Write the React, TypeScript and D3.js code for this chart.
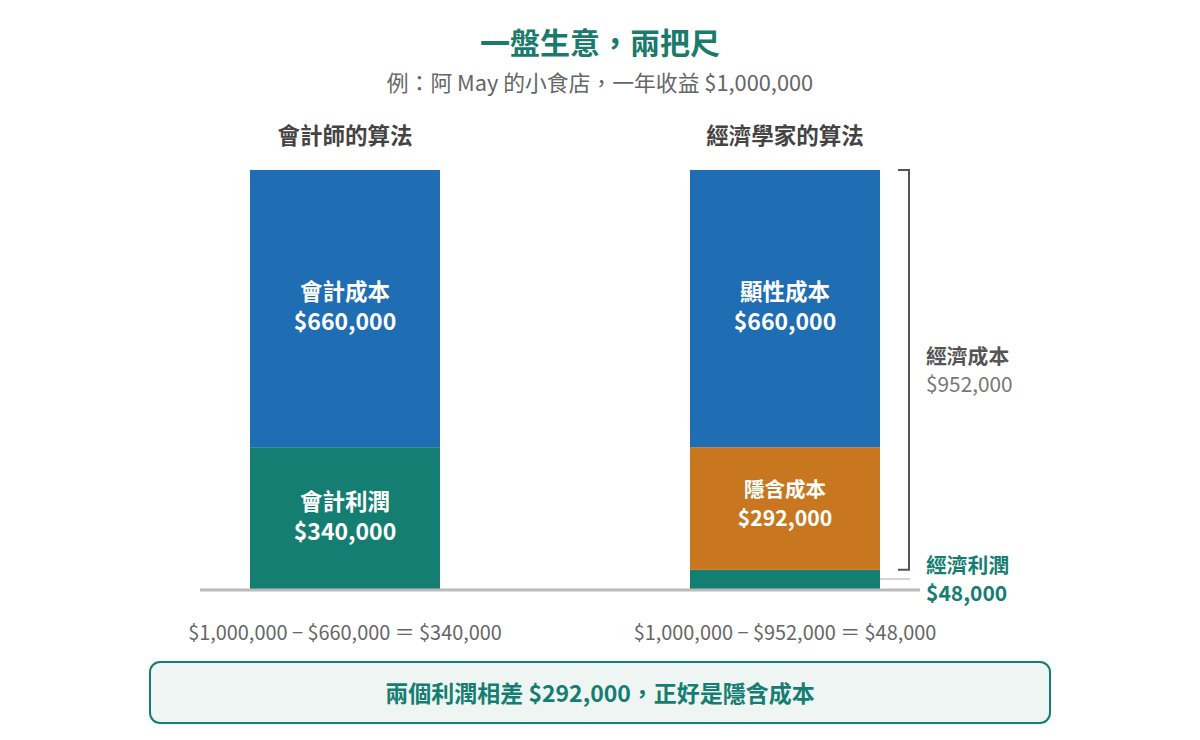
import React from "react";
import * as d3 from "d3";

const columns = ["會計師的算法", "經濟學家的算法"];
const revenue = 1000000;
const accountingSegments = [
  { name: "會計利潤", value: 340000, color: "#157e72" },
  { name: "會計成本", value: 660000, color: "#1f6db2" },
];
const economicSegments = [
  { name: "經濟利潤", value: 48000, color: "#157e72" },
  { name: "隱含成本", value: 292000, color: "#c87720" },
  { name: "顯性成本", value: 660000, color: "#1f6db2" },
];
const formulas = ["$1,000,000 − $660,000 ＝ $340,000", "$1,000,000 − $952,000 ＝ $48,000"];
const economicCost = 952000;

const FONT = "'Noto Sans CJK TC', 'Noto Sans', sans-serif";
const fmt = (v: number) => "$" + d3.format(",")(v);

export default function App() {
  const W = 1200, H = 740;
  const y = d3.scaleLinear().domain([0, revenue]).range([590, 170]);
  const barW = 190;
  const xLeft = (i: number) => (i === 0 ? 250 : 690);

  const stack = (segs: { name: string; value: number; color: string }[]) => {
    let acc = 0;
    return segs.map((s) => {
      const y0 = acc;
      acc += s.value;
      return { ...s, y0, y1: acc };
    });
  };
  const stacks = [stack(accountingSegments), stack(economicSegments)];

  const bx = 909;
  return (
    <svg width={W} height={H} style={{ position: "absolute", left: 0, top: 0, background: "#fff" }} fontFamily={FONT}>
      <text x={600} y={41} textAnchor="middle" dominantBaseline="central" fontSize={30} fontWeight={700} fill="#1a7a6b">一盤生意，兩把尺</text>
      <text x={600} y={81} textAnchor="middle" dominantBaseline="central" fontSize={21.8} fill="#666">例：阿 May 的小食店，一年收益 $1,000,000</text>
      {columns.map((c, i) => (
        <text key={c} x={xLeft(i) + barW / 2} y={134} textAnchor="middle" dominantBaseline="central" fontSize={22.5} fontWeight={700} fill="#444">{c}</text>
      ))}
      {stacks.map((segs, i) => (
        <g key={i}>
          {segs.map((s) => {
            const top = y(s.y1), bot = y(s.y0);
            const cy = (top + bot) / 2;
            const h = bot - top;
            const showLabel = h > 60;
            const small = h < 140;
            return (
              <g key={s.name}>
                <rect x={xLeft(i)} y={top} width={barW} height={h} fill={s.color} />
                {showLabel && (
                  <>
                    <text x={xLeft(i) + barW / 2} y={cy - (small ? 21 : 19)} textAnchor="middle" dominantBaseline="central" fontSize={small ? 20.5 : 22.5} fontWeight={700} fill="#fff">{s.name}</text>
                    <text x={xLeft(i) + barW / 2} y={cy + (small ? 7.5 : 11.5)} textAnchor="middle" dominantBaseline="central" fontSize={small ? 21.2 : 23} fontWeight={700} fill="#fff">{fmt(s.value)}</text>
                  </>
                )}
              </g>
            );
          })}
        </g>
      ))}
      <line x1={200} x2={920} y1={590} y2={590} stroke="#bbb" strokeWidth={3} />
      <line x1={880} x2={910} y1={579} y2={579} stroke="#c4c8c6" strokeWidth={1.5} />
      <path d={`M${bx - 11},${y(revenue)} H${bx} V${y(revenue - economicCost)} H${bx - 11}`} fill="none" stroke="#555" strokeWidth={2} />
      <text x={926} y={355} dominantBaseline="central" fontSize={20.8} fontWeight={700} fill="#555">經濟成本</text>
      <text x={926} y={383} dominantBaseline="central" fontSize={20.8} fill="#777">{fmt(economicCost)}</text>
      <text x={926} y={564} dominantBaseline="central" fontSize={20.8} fontWeight={700} fill="#157e72">經濟利潤</text>
      <text x={926} y={592} dominantBaseline="central" fontSize={21} fontWeight={700} fill="#157e72">{fmt(economicSegments[0].value)}</text>
      {formulas.map((f, i) => (
        <text key={i} x={xLeft(i) + barW / 2} y={631} textAnchor="middle" dominantBaseline="central" fontSize={19.9} fill="#666">{f}</text>
      ))}
      <rect x={150} y={662} width={900} height={61} rx={10} fill="#eff5f3" stroke="#157e72" strokeWidth={2} />
      <text x={600} y={692} textAnchor="middle" dominantBaseline="central" fontSize={23} fontWeight={700} fill="#157e72">兩個利潤相差 $292,000，正好是隱含成本</text>
    </svg>
  );
}
